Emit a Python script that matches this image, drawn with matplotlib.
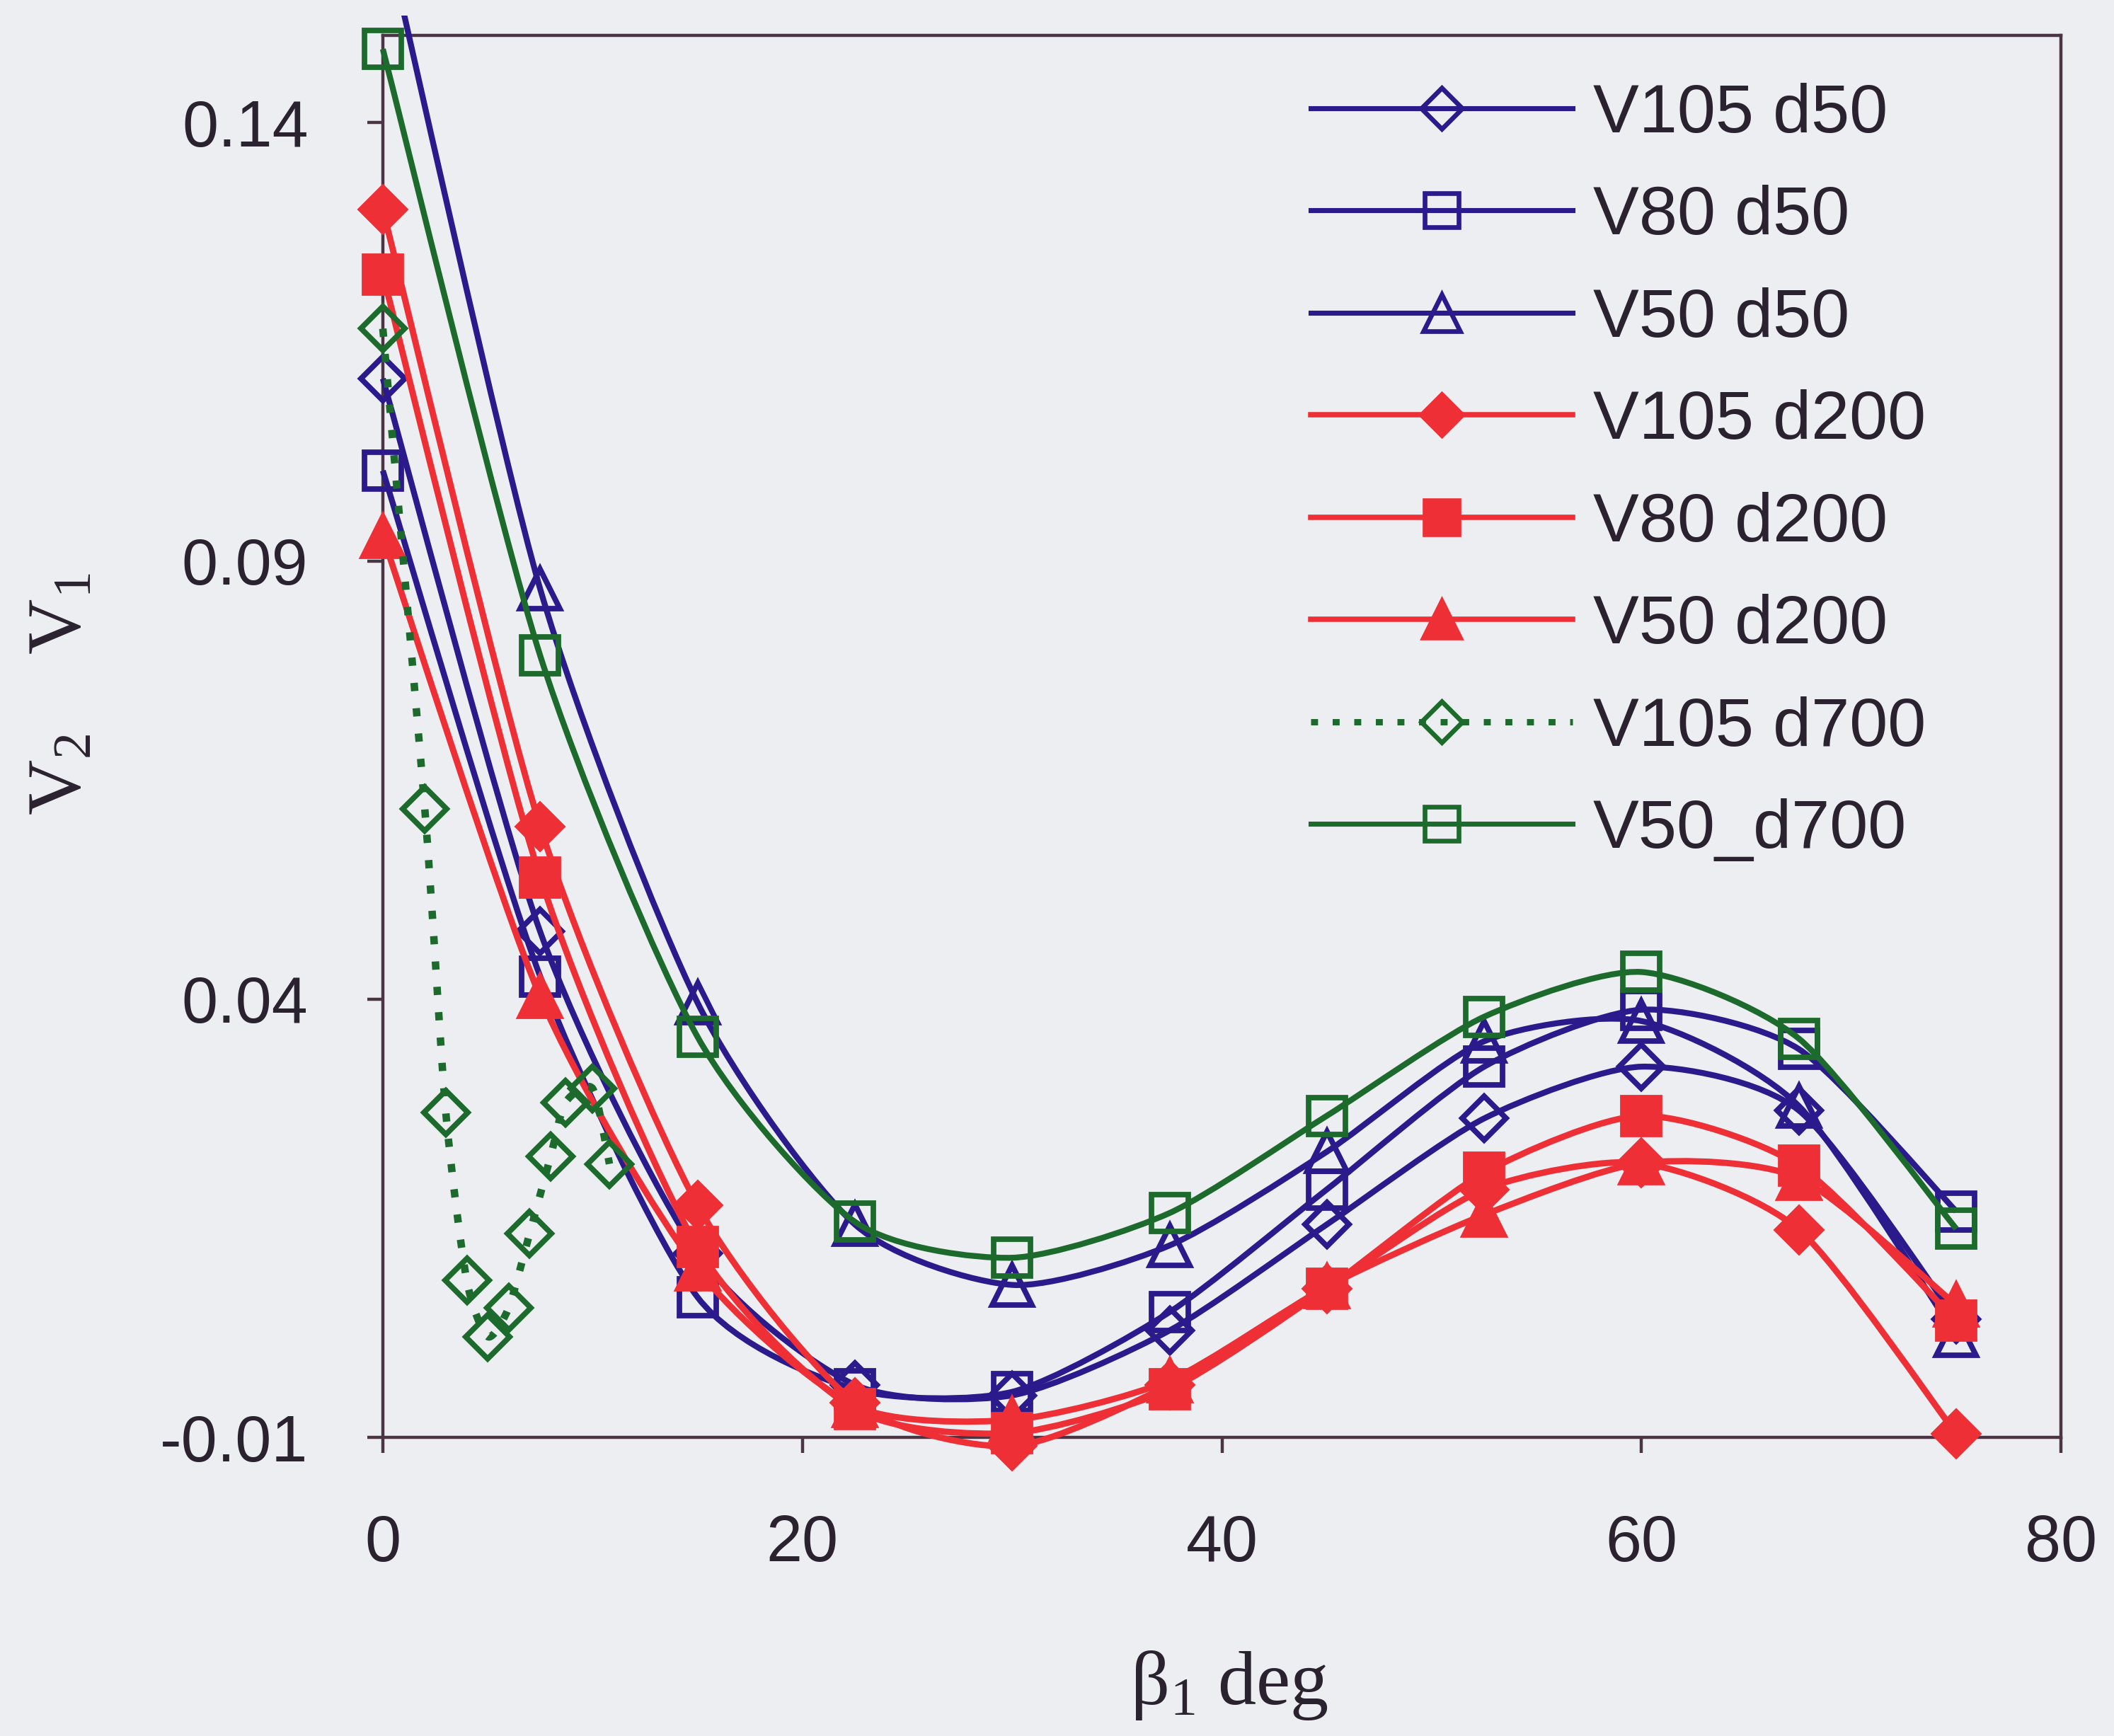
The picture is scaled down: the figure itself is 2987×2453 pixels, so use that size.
import numpy as np
import matplotlib
matplotlib.use('Agg')
import matplotlib.pyplot as plt
from matplotlib.path import Path
from matplotlib.patches import PathPatch
from matplotlib.lines import Line2D
from matplotlib.transforms import Bbox, TransformedBbox

plt.rcParams['font.family'] = ['Liberation Sans', 'DejaVu Sans']
plt.rcParams['mathtext.fontset'] = 'custom'
plt.rcParams['mathtext.rm'] = 'Liberation Serif'
plt.rcParams['mathtext.it'] = 'Liberation Serif:italic'

# ---------------- data ----------------
beta = [0, 7.5, 15, 22.5, 30, 37.5, 45, 52.5, 60, 67.5, 75]
v105_d50 = [0.1108, 0.0477, 0.0110, -0.0040, -0.0052, 0.0022, 0.0143, 0.0264, 0.0323, 0.0273, 0.0035]
v80_d50 = [0.1003, 0.0426, 0.0060, -0.0045, -0.0048, 0.0043, 0.0183, 0.0323, 0.0388, 0.0343, 0.0158]
v50_d50 = [0.1630, 0.0868, 0.0396, 0.0143, 0.0074, 0.0119, 0.0226, 0.0352, 0.0375, 0.0278, 0.0016]
v105_d200 = [0.1301, 0.0597, 0.0165, -0.0060, -0.0110, -0.0040, 0.0070, 0.0183, 0.0213, 0.0137, -0.0096]
v80_d200 = [0.1227, 0.0539, 0.0117, -0.0068, -0.0095, -0.0045, 0.0070, 0.0202, 0.0267, 0.0210, 0.0033]
v50_d200 = [0.0928, 0.0403, 0.0092, -0.0064, -0.0080, -0.0035, 0.0072, 0.0154, 0.0213, 0.0196, 0.0051]
beta_d700 = [0, 2, 3, 4, 5, 6, 7, 8, 8.7, 10, 10.8]
v105_d700 = [0.1165, 0.0617, 0.0271, 0.0079, 0.0015, 0.0048, 0.0133, 0.0221, 0.0282, 0.0298, 0.0212]
v50_d700 = [0.1484, 0.0792, 0.0357, 0.0146, 0.0105, 0.0156, 0.0267, 0.0380, 0.0431, 0.0355, 0.0138]

labels = ['V105 d50', 'V80 d50', 'V50 d50', 'V105 d200', 'V80 d200',
          'V50 d200', 'V105 d700', 'V50_d700']
xticks = [0, 20, 40, 60, 80]
yticks = [-0.01, 0.04, 0.09, 0.14]
ytick_labels = ['-0.01', '0.04', '0.09', '0.14']
xlabel = 'β$_1$ deg'
ylabel = 'V$_2$    V$_1$'

# ---------------- styles ----------------
bg = '#eceef2'
blue = '#2a1a8c'
red = '#ee2f36'
green = '#1d6b2c'
ink = '#2b2230'
spine_c = '#4b3444'
dotted = (0, (1.1, 2.3))
smooth_k = 0.12

series = [
    (beta, v105_d50, dict(color=blue, marker='D', mfc='none', ms=16, ls='-', lw=3.0)),
    (beta, v80_d50, dict(color=blue, marker='s', mfc='none', ms=18.5, ls='-', lw=3.0)),
    (beta, v50_d50, dict(color=blue, marker='^', mfc='none', ms=20, ls='-', lw=3.0)),
    (beta, v105_d200, dict(color=red, marker='D', mfc=red, ms=16, ls='-', lw=3.2)),
    (beta, v80_d200, dict(color=red, marker='s', mfc=red, ms=18.5, ls='-', lw=3.2)),
    (beta, v50_d200, dict(color=red, marker='^', mfc=red, ms=20, ls='-', lw=3.2)),
    (beta_d700, v105_d700, dict(color=green, marker='D', mfc='none', ms=16, ls=dotted, lw=3.8)),
    (beta, v50_d700, dict(color=green, marker='s', mfc='none', ms=18.5, ls='-', lw=3.0)),
]


def smooth_path(x, y, k):
    pts = np.column_stack([np.asarray(x, float), np.asarray(y, float)])
    n = len(pts)
    verts = [pts[0]]
    codes = [Path.MOVETO]
    for i in range(n - 1):
        p0 = pts[i - 1] if i > 0 else pts[i]
        p1 = pts[i]
        p2 = pts[i + 1]
        p3 = pts[i + 2] if i + 2 < n else pts[i + 1]
        verts += [p1 + (p2 - p0) * k, p2 - (p3 - p1) * k, p2]
        codes += [Path.CURVE4] * 3
    return Path(verts, codes)


fig = plt.figure(figsize=(14.935, 12.265), dpi=200, facecolor=bg)
ax = fig.add_axes([0.1811, 0.172, 0.975 - 0.1811, 0.9798 - 0.172])
ax.set_facecolor(bg)
ax.set_xlim(0, 80)
ax.set_ylim(-0.01, 0.15)

clip = TransformedBbox(Bbox.from_extents(-0.02, -0.03, 1.0, 1.014), ax.transAxes)

handles = []
for k, (x, y, st) in enumerate(series):
    z = 3 + k * 0.1
    patch = PathPatch(smooth_path(x, y, smooth_k), facecolor='none', edgecolor=st['color'],
                      lw=st['lw'], ls=st['ls'], zorder=z, capstyle='butt',
                      joinstyle='round')
    ax.add_patch(patch)
    patch.set_clip_box(clip)
    mk, = ax.plot(x, y, ls='none', marker=st['marker'], ms=st['ms'],
                  mfc=st['mfc'], mec=st['color'], mew=2.8, zorder=z + 0.05)
    mk.set_clip_box(clip)
    handles.append(Line2D([], [], color=st['color'], lw=st['lw'] * 0.85, ls=st['ls'],
                          marker=st['marker'], ms=st['ms'] * 0.92, mfc=st['mfc'],
                          mec=st['color'], mew=2.4))

for s in ax.spines.values():
    s.set_color(spine_c)
    s.set_linewidth(1.6)
    s.set_zorder(1)

ax.set_xticks(xticks)
ax.set_yticks(yticks)
ax.set_yticklabels(ytick_labels)
ax.tick_params(axis='both', direction='out', length=8, width=1.6, color=spine_c,
               labelsize=33, labelcolor=ink)
ax.tick_params(axis='y', pad=30)
ax.tick_params(axis='x', pad=31)

leg = ax.legend(handles, labels, loc='upper left', bbox_to_anchor=(0.553, 0.966),
                frameon=False, fontsize=35, handlelength=3.8, handletextpad=0.3,
                labelspacing=0.56, borderpad=0, borderaxespad=0, labelcolor=ink)
leg.set_zorder(10)

fig.text(0.5816, 0.029, xlabel, ha='center', va='center', fontsize=39,
         family='Liberation Serif', color=ink)
fig.text(0.029, 0.600, ylabel, ha='center', va='center', rotation=90, fontsize=39,
         family='Liberation Serif', color=ink)

fig.savefig('out.png', dpi=200, facecolor=bg)
